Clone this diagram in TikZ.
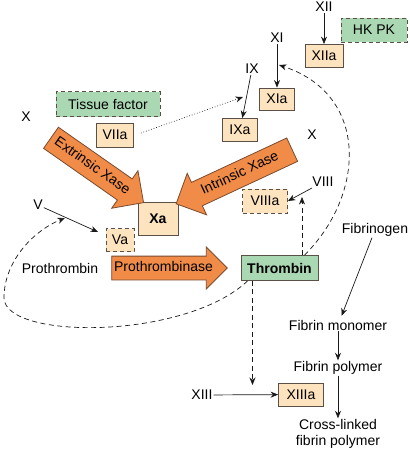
\documentclass[tikz,border=0pt]{standalone}
\usepackage{fontspec}
\setmainfont{Liberation Sans}
\usetikzlibrary{shapes.arrows,arrows.meta}
\definecolor{peach}{HTML}{FDE3BE}
\definecolor{boxline}{HTML}{5A5048}
\definecolor{mint}{HTML}{A9D8B3}
\definecolor{orng}{HTML}{F08C48}
\definecolor{orngline}{HTML}{7A4A2E}
\begin{document}
\begin{tikzpicture}[x=1pt,y=-1pt, font=\fontsize{14}{16}\selectfont,
 box/.style={draw=boxline, fill=peach, line width=0.8pt, inner sep=0pt},
 dbox/.style={box, dash pattern=on 4pt off 3pt},
 gbox/.style={draw=boxline, fill=mint, line width=0.8pt, inner sep=0pt},
 lbl/.style={inner sep=1pt},
 arr/.style={-{Stealth[length=7.5pt,width=6pt]}, line width=0.7pt, draw=black!90},
 darr/.style={arr, dash pattern=on 5pt off 3.5pt},
 big/.style={single arrow, draw=orngline, fill=orng, line width=0.8pt,
   single arrow head extend=10pt, inner xsep=2pt, inner ysep=6pt,
   text height=10pt, text depth=3pt}]
\useasboundingbox (0,0) rectangle (410,453);

% nodes
\node[lbl] (xii) at (324,7) {XII};
\node[box, minimum width=38, minimum height=23] (xiia) at (324,56) {XIIa};
\node[gbox, dash pattern=on 4pt off 3pt, minimum width=66, minimum height=24] (hkpk) at (374,30) {HK PK};
\node[lbl] (xi) at (277,38) {XI};
\node[box, minimum width=35, minimum height=22] (xia) at (277,99) {XIa};
\node[lbl] (ix) at (252,69) {IX};
\node[box, minimum width=35, minimum height=23] (ixa) at (240,130) {IXa};
\node[gbox, dash pattern=on 4pt off 3pt, minimum width=104, minimum height=25] (tf) at (108,104) {Tissue factor};
\node[lbl] (xleft) at (26,117) {X};
\node[box, minimum width=37, minimum height=24] (viia) at (115,135) {VIIa};
\node[lbl] (xright) at (312,135) {X};
\node[box, minimum width=40, minimum height=33] (xa) at (158,219) {\textbf{Xa}};
\node[lbl] (v) at (38,205) {V};
\node[dbox, minimum width=28, minimum height=23] (va) at (120,240) {Va};
\node[lbl] (pro) at (60,268) {Prothrombin};
\node[big, inner ysep=5pt, single arrow head extend=9pt, minimum height=113] (ptase) at (163.5,268) {Prothrombinase};
\node[gbox, minimum width=77, minimum height=25] (thr) at (279.5,268) {\textbf{Thrombin}};
\node[dbox, minimum width=45, minimum height=24] (viiia) at (265,201) {VIIIa};
\node[lbl] (viii) at (323,182) {VIII};
\node[big, minimum height=113, rotate=-35] (ext) at (92,166.5) {Extrinsic Xase};
\node[big, minimum height=128, rotate=25, shape border rotate=180] (int) at (240,174) {Intrinsic Xase};
\node[lbl] (fgen) at (375,230) {Fibrinogen};
\node[lbl] (fmon) at (338,325) {Fibrin monomer};
\node[lbl] (fpol) at (338,368) {Fibrin polymer};
\node[lbl, align=center] (xlink) at (338,434) {Cross-linked\\fibrin polymer};
\node[lbl] (xiii) at (202,395) {XIII};
\node[box, minimum width=45, minimum height=23] (xiiia) at (301,394.5) {XIIIa};

% free ends
\coordinate (tfhit) at (243,97);
\coordinate (vend) at (98,232);
\coordinate (viiiup) at (302,197);
\coordinate (xihit) at (279,65);
\coordinate (vhit) at (65,218);
\coordinate (xiiihit) at (252.5,385);

% connectors
\draw[arr] (xii) -- (xiia);
\draw[arr] (xi) -- (xia);
\draw[arr] (ix) -- (ixa);
\draw[arr, dotted] ([xshift=7pt,yshift=2pt]viia.east) -- (tfhit);
\draw[arr] (v) -- (vend);
\draw[arr] (viii) -- (viiia.east);
\draw[darr] ([xshift=22.5pt]thr.north) -- (viiiup);
\draw[darr] ([xshift=25pt]thr.north) .. controls (365,195) and (370,95) .. (xihit);
\draw[darr] ([xshift=7pt]thr.south west) .. controls (185,340) and (5,340) .. (4,298)
   .. controls (4,260) and (35,230) .. (vhit);
\draw[darr] ([xshift=-27pt]thr.south) -- (xiiihit);
\draw[arr] (xiii) -- (xiiia);
\draw[arr, shorten >=3pt] (fgen) -- (fmon);
\draw[arr] (fmon) -- (fpol);
\draw[arr] (fpol) -- (xlink);
\end{tikzpicture}
\end{document}
